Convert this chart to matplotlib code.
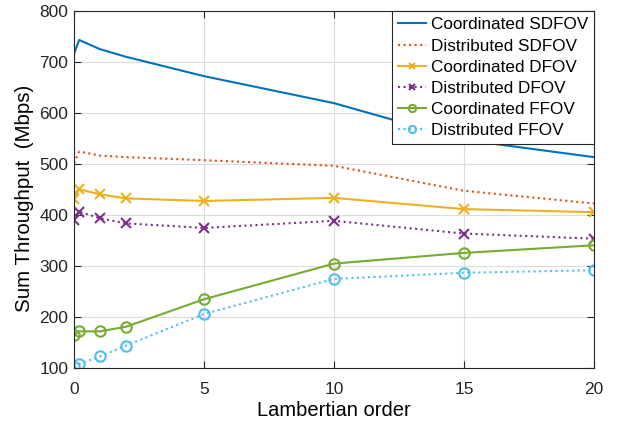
import matplotlib.pyplot as plt

plt.rcParams['font.family'] = ['Liberation Sans', 'DejaVu Sans']

# Lambertian order sweep
order = [0, 0.2, 1, 2, 5, 10, 15, 20]

coord_sdfov = [717, 744, 726, 711, 673, 620, 548, 514]
dist_sdfov = [502, 525, 517, 514, 508, 497, 448, 423]
coord_dfov = [432, 451, 441, 433, 428, 434, 412, 406]
dist_dfov = [391, 407, 394, 384, 375, 389, 364, 354]
coord_ffov = [165, 172, 172, 181, 235, 305, 326, 341]
dist_ffov = [102, 108, 123, 144, 206, 275, 287, 292]

labels = ['Coordinated SDFOV', 'Distributed SDFOV', 'Coordinated DFOV',
          'Distributed DFOV', 'Coordinated FFOV', 'Distributed FFOV']

fig = plt.figure(figsize=(6.18, 4.24), dpi=100)
ax = fig.add_axes([0.1197, 0.132, 0.8413, 0.841])

ax.plot(order, coord_sdfov, '-', color='#0072BD', lw=1.5, label=labels[0])
ax.plot(order, dist_sdfov, ':', color='#D95319', lw=1.5, label=labels[1])
ax.plot(order, coord_dfov, '-x', color='#EDB120', lw=1.5, ms=6.5, mew=1.5,
        label=labels[2])
ax.plot(order, dist_dfov, ':x', color='#7E2F8E', lw=1.5, ms=6.5, mew=1.5,
        label=labels[3])
ax.plot(order, coord_ffov, '-o', color='#77AC30', lw=1.5, ms=7.5, mew=1.5,
        mfc='none', label=labels[4])
ax.plot(order, dist_ffov, ':o', color='#4DBEEE', lw=1.5, ms=7.5, mew=1.5,
        mfc='none', label=labels[5])

ax.set_xlim(0, 20)
ax.set_ylim(100, 800)
ax.set_xticks([0, 5, 10, 15, 20])
ax.set_yticks(range(100, 801, 100))
ax.grid(True, color='#dcdcdc', lw=0.8)
ax.set_axisbelow(True)
for s in ax.spines.values():
    s.set_color('#262626')
    s.set_linewidth(0.8)
ax.tick_params(direction='in', top=True, right=True, labelsize=12.5,
               length=5, colors='#262626')
ax.tick_params(axis='x', pad=10)
ax.tick_params(axis='y', pad=4)

ax.set_xlabel('Lambertian order', fontsize=14.5, labelpad=3)
ax.set_ylabel('Sum Throughput  (Mbps)', fontsize=14.8, labelpad=4)
ax.yaxis.label.set_y(0.476)

leg = ax.legend(loc='upper right', fontsize=12.3, fancybox=False,
                framealpha=1, edgecolor='#262626', borderaxespad=0,
                handlelength=1.6, handletextpad=0.3, borderpad=0.35,
                labelspacing=0.36, markerscale=0.7)
leg.get_frame().set_linewidth(0.8)

fig.savefig('out.png', dpi=100)
